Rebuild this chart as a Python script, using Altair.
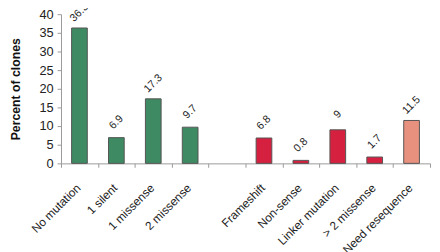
import altair as alt
import pandas as pd

categories = ["No mutation", "1 silent", "1 missense", "2 missense",
              "Frameshift", "Non-sense", "Linker mutation", "> 2 missense", "Need resequence"]
values = [36.3, 6.9, 17.3, 9.7, 6.8, 0.8, 9, 1.7, 11.5]
groups = ["ok", "ok", "ok", "ok", "bad", "bad", "bad", "bad", "reseq"]
value_labels = ["36.3", "6.9", "17.3", "9.7", "6.8", "0.8", "9", "1.7", "11.5"]
domain = categories[:4] + [" "] + categories[4:]
y_ticks = [0, 5, 10, 15, 20, 25, 30, 35, 40]

df = pd.DataFrame({"cat": categories, "val": values, "grp": groups, "lab": value_labels})

FONT = "Liberation Sans"

x = alt.X("cat:N", scale=alt.Scale(domain=domain, paddingInner=0, paddingOuter=0),
          sort=domain,
          axis=alt.Axis(title=None, labelAngle=-45, tickBand="extent", tickSize=4,
                        labelPadding=15, labelOffset=-5, labelFontSize=12, labelFont=FONT,
                        labelColor="#222", domainColor="#999", tickColor="#999",
                        labelAlign="right", labelBaseline="top"))

y = alt.Y("val:Q", scale=alt.Scale(domain=[0, 40], nice=False),
          axis=alt.Axis(title="Percent of clones", values=y_ticks, grid=False,
                        labelOverlap=False,
                        tickSize=4, labelPadding=4, labelFontSize=13, labelFont=FONT,
                        labelColor="#222", domainColor="#999", tickColor="#999",
                        titleFont=FONT, titleFontSize=12.5, titleFontWeight="bold",
                        titleColor="#111", titlePadding=17))

bars = alt.Chart(df).mark_bar(size=16, stroke="#555", strokeWidth=1).encode(
    x=x,
    y=y,
    color=alt.Color("grp:N", scale=alt.Scale(domain=["ok", "bad", "reseq"],
                                             range=["#3e8a63", "#d5203f", "#e8917f"]),
                    legend=None),
)

texts = alt.Chart(df).mark_text(angle=315, align="center", baseline="middle",
                                dx=11, dy=-11, fontSize=11, font=FONT, color="#222").encode(
    x=x,
    y=y,
    text="lab:N",
)

chart = (bars + texts).properties(
    width=376, height=152,
    background="white",
    autosize=alt.AutoSizeParams(type="none"),
    padding={"left": 54, "top": 4, "right": 2, "bottom": 88},
).configure_view(stroke=None)

chart.save("out.html", embed_options={"renderer": "svg", "actions": False})
